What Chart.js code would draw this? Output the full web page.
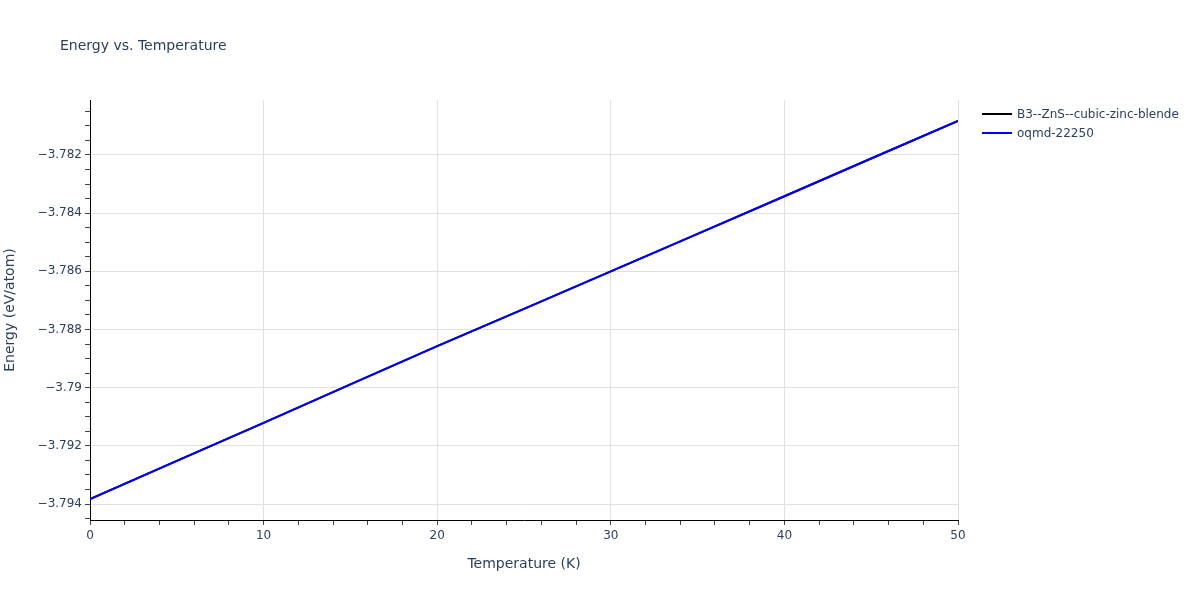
<!DOCTYPE html>
<html lang="en">
<head>
    <meta charset="UTF-8">
    <title>Energy vs. Temperature</title>
    <script src="https://cdn.jsdelivr.net/npm/chart.js"></script>
    <style>
        body { margin: 0; background: #fff; font-family: "DejaVu Sans", sans-serif; }
        .wrap { position: relative; width: 1200px; height: 600px; }
        .title { position: absolute; left: 60px; top: 36px; font-size: 14px; line-height: 18px; color: #2a3f5f; }
        .legend { position: absolute; left: 982px; top: 105px; font-size: 12px; color: #2a3f5f; }
        .item { position: relative; height: 19px; line-height: 19px; padding-left: 35px; white-space: nowrap; }
        .item span { position: absolute; left: 0; top: 8px; width: 30px; height: 2px; }
    </style>
</head>
<body>
    <div class="wrap">
        <canvas id="grafico" width="1200" height="600"></canvas>
        <div class="title">Energy vs. Temperature</div>
        <div class="legend" id="legenda"></div>
    </div>

    <script>
        // dados
        const temperaturas = [0, 5, 10, 15, 20, 25, 30, 35, 40, 45, 50];
        const energiaB3 = [-3.79383, -3.79252, -3.79121, -3.78989, -3.78857, -3.78729, -3.78600, -3.78471, -3.78342, -3.78212, -3.78083];
        const energiaOqmd = [-3.79383, -3.79252, -3.79121, -3.78989, -3.78857, -3.78729, -3.78600, -3.78471, -3.78342, -3.78212, -3.78083];
        const nomes = ['B3--ZnS--cubic-zinc-blende', 'oqmd-22250'];
        const cores = ['#000000', '#0000ff'];
        const xTicks = [0, 10, 20, 30, 40, 50];
        const yTicks = [-3.794, -3.792, -3.79, -3.788, -3.786, -3.784, -3.782];

        const xMin = 0, xMax = 50, yMin = -3.79455, yMax = -3.78011;
        const xMinor = 2, yMinor = 0.0005;

        function isMajor(v, lista) {
            return lista.some(t => Math.abs(t - v) < 1e-9);
        }

        function fmt(v) {
            return parseFloat(v.toFixed(4)).toString().replace('-', '\u2212');
        }

        const legenda = document.getElementById('legenda');
        nomes.forEach((n, i) => {
            legenda.innerHTML += `<div class="item"><span style="background:${cores[i]}"></span>${n}</div>`;
        });

        const ctx = document.getElementById('grafico').getContext('2d');
        Chart.defaults.font.family = '"DejaVu Sans", sans-serif';
        Chart.defaults.color = '#2a3f5f';

        new Chart(ctx, {
            type: 'line',
            data: {
                datasets: [
                    {
                        label: nomes[0],
                        data: temperaturas.map((t, i) => ({ x: t, y: energiaB3[i] })),
                        borderColor: cores[0],
                        borderWidth: 2,
                        pointRadius: 0,
                        order: 1
                    },
                    {
                        label: nomes[1],
                        data: temperaturas.map((t, i) => ({ x: t, y: energiaOqmd[i] })),
                        borderColor: cores[1],
                        borderWidth: 2,
                        pointRadius: 0,
                        order: 0
                    }
                ]
            },
            options: {
                responsive: false,
                animation: false,
                layout: { padding: { top: 100, right: 242, left: 0, bottom: 0 } },
                plugins: {
                    legend: { display: false },
                    tooltip: { enabled: false }
                },
                scales: {
                    x: {
                        type: 'linear',
                        min: xMin,
                        max: xMax,
                        afterBuildTicks: axis => {
                            const t = [];
                            for (let v = xMin; v <= xMax; v += xMinor) t.push({ value: v });
                            axis.ticks = t;
                        },
                        afterFit: axis => { axis.height = 80; },
                        ticks: {
                            autoSkip: false,
                            maxRotation: 0,
                            padding: 4,
                            font: { size: 12 },
                            callback: v => isMajor(v, xTicks) ? String(v) : ''
                        },
                        grid: {
                            color: c => c.tick && isMajor(c.tick.value, xTicks) ? '#e0e0e0' : 'rgba(0,0,0,0)',
                            tickColor: '#444',
                            tickLength: 5
                        },
                        border: { display: true, color: '#000', width: 1 },
                        title: {
                            display: true,
                            text: 'Temperature (K)',
                            font: { size: 14 },
                            padding: { top: 0, bottom: 27 }
                        }
                    },
                    y: {
                        type: 'linear',
                        min: yMin,
                        max: yMax,
                        afterBuildTicks: axis => {
                            const t = [];
                            const k0 = Math.ceil(yMin / yMinor - 1e-6);
                            const k1 = Math.floor(yMax / yMinor + 1e-6);
                            for (let k = k0; k <= k1; k++) t.push({ value: k * yMinor });
                            axis.ticks = t;
                        },
                        afterFit: axis => { axis.width = 90; },
                        ticks: {
                            autoSkip: false,
                            padding: 3,
                            font: { size: 12 },
                            callback: v => isMajor(v, yTicks) ? fmt(v) : ''
                        },
                        grid: {
                            color: c => c.tick && isMajor(c.tick.value, yTicks) ? '#e0e0e0' : 'rgba(0,0,0,0)',
                            tickColor: '#444',
                            tickLength: 5
                        },
                        border: { display: true, color: '#000', width: 1 },
                        title: {
                            display: true,
                            text: 'Energy (eV/atom)',
                            font: { size: 14 },
                            padding: { top: 2, bottom: 0 }
                        }
                    }
                }
            }
        });
    </script>
</body>
</html>
